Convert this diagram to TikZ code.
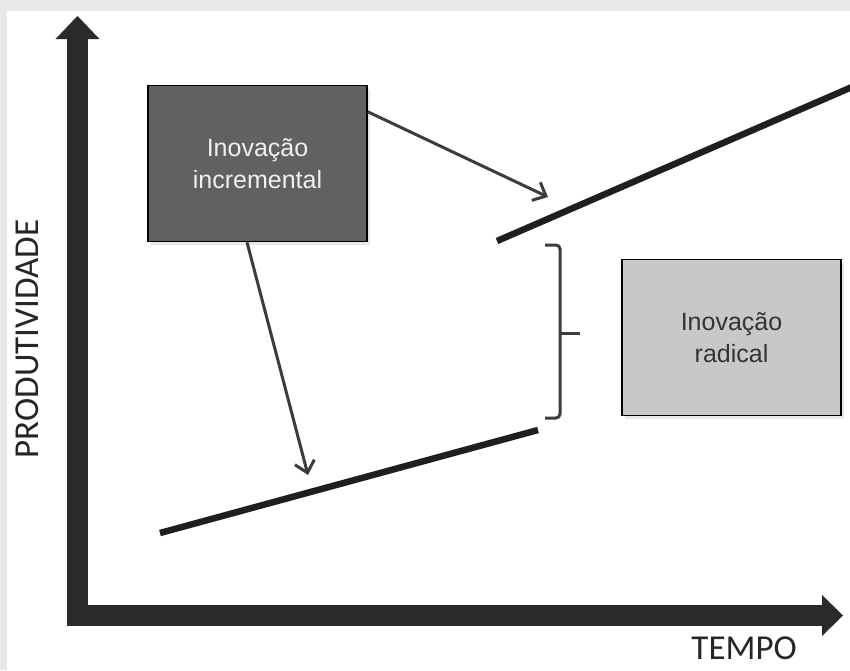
\documentclass[tikz,border=0pt]{standalone}
\usepackage{fontspec}
\setmainfont{Liberation Sans}
\newfontfamily\axisfont{Carlito}
\usetikzlibrary{arrows.meta,shadows}
\definecolor{pagegray}{HTML}{E8E8E8}
\definecolor{axisgray}{HTML}{2A2A2A}
\definecolor{incfill}{HTML}{616161}
\definecolor{radfill}{HTML}{C8C8C8}
\definecolor{pengray}{HTML}{3C3C3C}
\tikzset{
  innobox/.style={
    draw=black,
    line width=1.5pt,
    minimum width=219pt,
    minimum height=156pt,
    align=center,
    font=\fontsize{25}{32}\selectfont,
    drop shadow={opacity=0.18, shadow xshift=3pt, shadow yshift=-3pt}
  },
  incbox/.style={
    innobox,
    fill=incfill,
    text=white!94!black
  },
  radbox/.style={
    innobox,
    fill=radfill,
    text=black!80
  },
  axisline/.style={
    draw=axisgray,
    line width=21pt,
    {Triangle[length=23pt,width=44pt,line width=0pt]}-{Triangle[length=21pt,width=41pt,line width=0pt]}
  },
  trendline/.style={
    draw=black!88,
    line width=6.5pt
  },
  pointer/.style={
    draw=pengray,
    line width=3pt,
    -{Straight Barb[length=11pt,width=20pt]}
  },
  bracket/.style={
    draw=pengray,
    line width=3pt,
    rounded corners=4pt
  },
  axislabel/.style={
    font=\axisfont\fontsize{35}{40}\selectfont,
    text=black!85,
    inner sep=0pt
  }
}

\begin{document}
\begin{tikzpicture}[x=1pt,y=-1pt]
  \useasboundingbox (0,0) rectangle (850,670);
  \fill[pagegray] (0,0) rectangle (850,670);
  \fill[white] (7,11) rectangle (850,670);

  % axes
  \coordinate (ytip) at (77.5,16);
  \coordinate (xtip) at (843,615.5);
  \draw[axisline] (ytip) |- (xtip);
  \node[axislabel, rotate=90] (ylab) at (27,339) {PRODUTIVIDADE};
  \node[axislabel, anchor=base east] (xlab) at (797,659) {TEMPO};

  % productivity curves
  \coordinate (lowa) at (160,533);
  \coordinate (lowb) at (538,430);
  \coordinate (higha) at (497,241);
  \coordinate (highb) at (852,87);
  \draw[trendline] (lowa) -- (lowb);
  \draw[trendline] (higha) -- (highb);

  % boxes
  \node[incbox] (inc) at (257.5,163.5) {Inovação\\incremental};
  \node[radbox] (rad) at (731.5,337.5) {Inovação\\radical};

  % pointers
  \coordinate (tipup) at (548,197);
  \coordinate (tiplow) at (308,475);
  \draw[pointer] ([yshift=-27pt]inc.north east) -- (tipup);
  \draw[pointer] ([xshift=-10.5pt]inc.south) -- (tiplow);

  % bracket between the two curves
  \coordinate (brtop) at (545,245);
  \coordinate (brmid) at (560,333);
  \coordinate (brbot) at (545,418);
  \draw[bracket] (brtop) -| (brmid) |- (brbot);
  \draw[bracket] (brmid) -- ++(20,0);
\end{tikzpicture}
\end{document}
